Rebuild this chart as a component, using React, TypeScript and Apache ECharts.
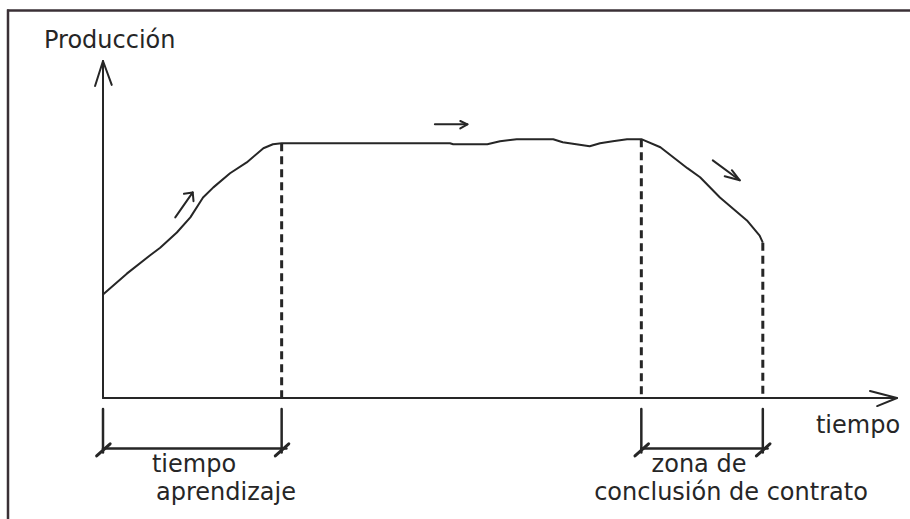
import React, { useEffect, useRef } from "react";
import * as echarts from "echarts";

// Production curve (x: time units 0..100, y: production units 0..100)
const curveX = [0, 3.0, 5.9, 7.2, 9.3, 11.0, 12.6, 13.9, 16.0, 18.1, 20.2, 21.4, 22.5, 43.7, 44.1, 48.4, 50.0, 52.1, 56.7, 57.9, 61.3, 62.6, 64.2, 66.0, 67.8, 70.2, 73.6, 75.2, 77.7, 81.1, 82.7, 83.1];
const curveY = [30.7, 36.9, 42.3, 44.6, 49.1, 53.6, 59.5, 62.5, 66.7, 69.9, 74.1, 75.3, 75.6, 75.6, 75.3, 75.3, 76.2, 76.8, 76.8, 75.9, 74.7, 75.6, 76.2, 76.8, 76.8, 74.4, 68.2, 65.5, 59.5, 52.7, 48.2, 46.1];

// Milestones on the time axis (end of learning, start of closing zone, end)
const milestoneX = [22.5, 67.8, 83.1];
const milestoneY = [75.6, 76.8, 46.1];

const yAxisTitle = "Producción";
const xAxisTitle = "tiempo";
const learningLabel = ["tiempo", "aprendizaje"];
const closingLabel = ["zona de", "conclusión de contrato"];

const INK = "#262626";
const FONT = "'DejaVu Sans', sans-serif";

type Pt = [number, number];

function seg(pts: Pt[], width = 2, dashed = false): any {
  return {
    type: "line",
    data: pts,
    symbol: "none",
    clip: false,
    silent: true,
    animation: false,
    lineStyle: { color: INK, width, type: dashed ? [8, 5] : "solid", cap: "butt" },
    z: 3,
  };
}

export default function App() {
  const ref = useRef<HTMLDivElement>(null);

  useEffect(() => {
    document.body.style.margin = "0";
    if (!ref.current) return;
    const chart = echarts.init(ref.current, undefined, { renderer: "svg" });

    const curve: Pt[] = curveX.map((x, i) => [x, curveY[i]] as Pt);
    const series: any[] = [];
    series.push({ ...seg(curve, 2), z: 4 });

    // dashed verticals from the curve down to the time axis
    milestoneX.forEach((x, i) => {
      series.push(seg([[x, milestoneY[i]], [x, 0]], 3, true));
    });

    const txt = (text: string, x: number, y: number, align = "center") => ({
      type: "text",
      x,
      y,
      silent: true,
      z: 10,
      style: {
        text,
        fill: INK,
        font: `24px ${FONT}`,
        lineHeight: 24,
        align,
        verticalAlign: "middle",
      },
    });

    const baseGraphic: any[] = [
      {
        type: "line",
        silent: true,
        shape: { x1: 7, y1: 10.5, x2: 910, y2: 10.5 },
        style: { stroke: "#3a3036", lineWidth: 2.5 },
      },
      {
        type: "line",
        silent: true,
        shape: { x1: 8, y1: 9.5, x2: 8, y2: 519 },
        style: { stroke: "#3a3036", lineWidth: 2.5 },
      },
      txt(yAxisTitle, 44, 40, "left"),
      txt(xAxisTitle, 858, 425),
      txt(learningLabel[0], 194, 464),
      txt(learningLabel[1], 226, 492),
      txt(closingLabel[0], 699, 464),
      txt(closingLabel[1], 731, 492),
    ];

    chart.setOption({
      animation: false,
      backgroundColor: "#ffffff",
      grid: { left: 103, right: 13, top: 61, bottom: 121, containLabel: false },
      xAxis: {
        type: "value",
        min: 0,
        max: 100,
        axisLine: { show: true, onZero: false, lineStyle: { color: INK, width: 2 } },
        axisTick: { show: false },
        axisLabel: { show: false },
        splitLine: { show: false },
      },
      yAxis: {
        type: "value",
        min: 0,
        max: 100,
        axisLine: { show: true, onZero: false, lineStyle: { color: INK, width: 2 } },
        axisTick: { show: false },
        axisLabel: { show: false },
        splitLine: { show: false },
      },
      series,
      graphic: baseGraphic,
    });

    // decorations drawn in data space, converted to pixels by the chart's scales
    const px = (p: Pt): number[] => chart.convertToPixel({ gridIndex: 0 }, p) as number[];
    const poly = (pts: Pt[], width = 2) => ({
      type: "polyline",
      silent: true,
      z: 5,
      shape: { points: pts.map(px) },
      style: { stroke: INK, lineWidth: width, fill: "none", lineCap: "round", lineJoin: "round" },
    });

    const deco: any[] = [];
    // brackets below the time axis
    const bTop = -3.3;
    const bBot = -16.2;
    const bBar = -15.0;
    const brackets: [number, number][] = [
      [0, milestoneX[0]],
      [milestoneX[1], milestoneX[2]],
    ];
    brackets.forEach(([a, b]) => {
      deco.push(poly([[a, bTop], [a, bBot]], 2.5));
      deco.push(poly([[b, bTop], [b, bBot]], 2.5));
      deco.push(poly([[a, bBar], [b + 0.6, bBar]], 2.5));
      deco.push(poly([[a - 0.8, bBar - 2.2], [a + 0.9, bBar + 1.4]], 3));
      deco.push(poly([[b - 0.8, bBar - 2.2], [b + 0.9, bBar + 1.4]], 3));
    });
    // open axis arrow heads
    deco.push(poly([[-1.0, 92.6], [0, 100], [1.1, 92.9]], 2));
    deco.push(poly([[96.6, 2.1], [100, 0], [97.5, -2.4]], 2));
    // small direction arrows
    deco.push(poly([[41.8, 81.2], [45.9, 81.2]], 2));
    deco.push(poly([[45.0, 82.2], [45.9, 81.2], [45.0, 80.0]], 2));
    deco.push(poly([[9.1, 53.6], [11.3, 61.0]], 2));
    deco.push(poly([[10.2, 60.6], [11.3, 61.0], [11.4, 58.4]], 2));
    deco.push(poly([[76.8, 70.5], [80.2, 64.6]], 2));
    deco.push(poly([[79.2, 67.6], [80.2, 64.6], [78.3, 65.8]], 2));

    chart.setOption({ graphic: [...baseGraphic, ...deco] });

    return () => chart.dispose();
  }, []);

  return <div ref={ref} style={{ width: 910, height: 519 }} />;
}
